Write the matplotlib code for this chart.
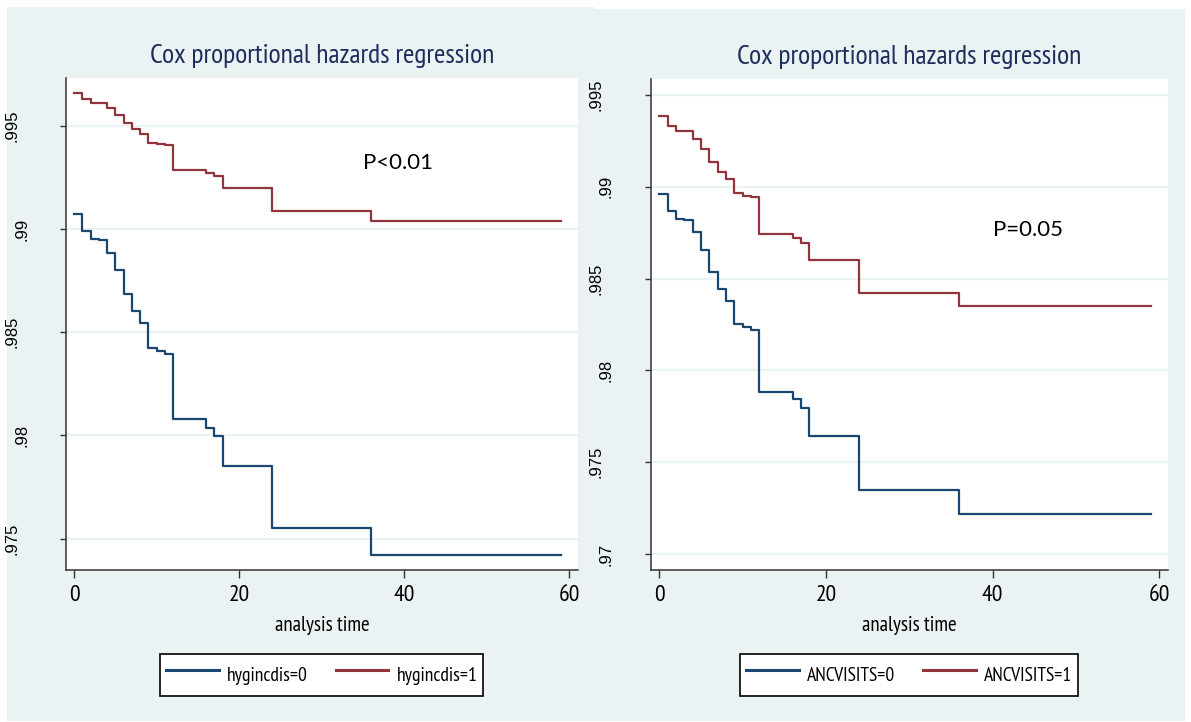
import matplotlib
matplotlib.use('Agg')
import matplotlib.pyplot as plt
from matplotlib.patches import Rectangle

# ---------- dados ----------
tempos = [0, 1, 2, 3, 4, 5, 6, 7, 8, 9, 10, 11, 12, 16, 17, 18, 24, 36, 59]

hyg0 = [0.99073, 0.98990, 0.98951, 0.98945, 0.98885, 0.98800, 0.98683, 0.98605, 0.98546, 0.98424,
        0.98408, 0.98395, 0.98080, 0.98037, 0.97995, 0.97850, 0.97553, 0.97419, 0.97419]
hyg1 = [0.99657, 0.99628, 0.99613, 0.99610, 0.99587, 0.99555, 0.99515, 0.99484, 0.99461, 0.99417,
        0.99411, 0.99405, 0.99286, 0.99272, 0.99256, 0.99199, 0.99089, 0.99039, 0.99039]

anc0 = [0.98961, 0.98867, 0.98826, 0.98819, 0.98754, 0.98657, 0.98534, 0.98446, 0.98380, 0.98251,
        0.98238, 0.98220, 0.97884, 0.97843, 0.97797, 0.97644, 0.97347, 0.97216, 0.97216]
anc1 = [0.99385, 0.99329, 0.99305, 0.99302, 0.99262, 0.99205, 0.99133, 0.99080, 0.99042, 0.98964,
        0.98951, 0.98944, 0.98745, 0.98720, 0.98693, 0.98602, 0.98422, 0.98349, 0.98349]

yticks_esq = [0.975, 0.98, 0.985, 0.99, 0.995]
ylabels_esq = ['.975', '.98', '.985', '.99', '.995']
yticks_dir = [0.97, 0.975, 0.98, 0.985, 0.99, 0.995]
ylabels_dir = ['.97', '.975', '.98', '.985', '.99', '.995']
xticks = [0, 20, 40, 60]

titulo = 'Cox proportional hazards regression'

# ---------- estilo ----------
estreita = 'PT Sans Narrow'
fundo = '#EAF2F3'
azul = '#1A476F'
vermelho = '#90353B'
cor_titulo = '#1E2D5B'

W, H = 1191, 722
fig = plt.figure(figsize=(W / 100, H / 100), dpi=100)
fig.patch.set_facecolor('white')

# regiões de fundo dos dois gráficos
fig.add_artist(Rectangle((7 / W, 1 - 721 / H), (594 - 7) / W, (721 - 7) / H,
                         transform=fig.transFigure, facecolor=fundo, edgecolor='none', zorder=0))
fig.add_artist(Rectangle((594 / W, 1 - 721 / H), (1185 - 594) / W, (721 - 9) / H,
                         transform=fig.transFigure, facecolor=fundo, edgecolor='none', zorder=0))


def painel(px0, px1, py0, py1, xlim, ylim, yticks, ylabels, s0, s1, nomes_leg, ptexto, ppos):
    ax = fig.add_axes([px0 / W, 1 - py1 / H, (px1 - px0) / W, (py1 - py0) / H])
    ax.set_facecolor('white')
    ax.step(tempos, s0, where='post', color=azul, lw=1.6, label=nomes_leg[0])
    ax.step(tempos, s1, where='post', color=vermelho, lw=1.6, label=nomes_leg[1])
    ax.set_xlim(*xlim)
    ax.set_ylim(*ylim)
    for v in yticks:
        ax.axhline(v, color=fundo, lw=1.6, zorder=0)
    for lado in ['top', 'right']:
        ax.spines[lado].set_visible(False)
    for lado in ['left', 'bottom']:
        ax.spines[lado].set_color('#333333')
        ax.spines[lado].set_linewidth(1.1)

    ax.set_xticks(xticks)
    ax.set_xticklabels([str(x) for x in xticks], fontfamily=estreita, fontsize=17)
    ax.tick_params(axis='x', direction='out', length=6, width=1, color='#333333', pad=5)

    ax.set_yticks(yticks)
    ax.set_yticklabels(ylabels, rotation=90, ha='center', va='center',
                       fontfamily='Liberation Sans', fontsize=12)
    ax.tick_params(axis='y', direction='out', length=4.5, width=1, color='#333333')
    for t, lab in zip(ax.yaxis.get_major_ticks(), ylabels):
        t.set_pad(34.5 if len(lab) == 4 else 27.3)

    ax.set_xlabel('analysis time', fontfamily=estreita, fontsize=15, labelpad=7)
    ax.set_title(titulo, fontfamily=estreita, fontsize=20, color=cor_titulo, pad=10.5)
    ax.text(ppos[0], ppos[1], ptexto, fontfamily='Lato', fontsize=16,
            ha='center', va='center', color='black')

    cx = (px0 + px1) / 2 / W
    leg = fig.legend(handles=ax.get_lines()[:2], loc='center', bbox_to_anchor=(cx, 1 - 675 / H),
                     ncol=2, frameon=True, fancybox=False, edgecolor='black', framealpha=1,
                     prop={'family': estreita, 'size': 14}, handlelength=2.7, handleheight=2.1,
                     handletextpad=0.42, columnspacing=1.45, borderpad=0.3)
    leg.get_frame().set_linewidth(1.2)
    for linha in leg.get_lines():
        linha.set_linewidth(2.2)
    return ax


painel(65.7, 578, 78, 570, (-1.03, 61.08), (0.97348, 0.99732), yticks_esq, ylabels_esq,
       hyg0, hyg1, ['hygincdis=0', 'hygincdis=1'], 'P<0.01', (39.2, 0.99319))
painel(650.5, 1168, 79, 570, (-1.06, 61.06), (0.96913, 0.99587), yticks_dir, ylabels_dir,
       anc0, anc1, ['ANCVISITS=0', 'ANCVISITS=1'], 'P=0.05', (44.3, 0.98765))

fig.savefig('out.png', dpi=100, facecolor='white')
